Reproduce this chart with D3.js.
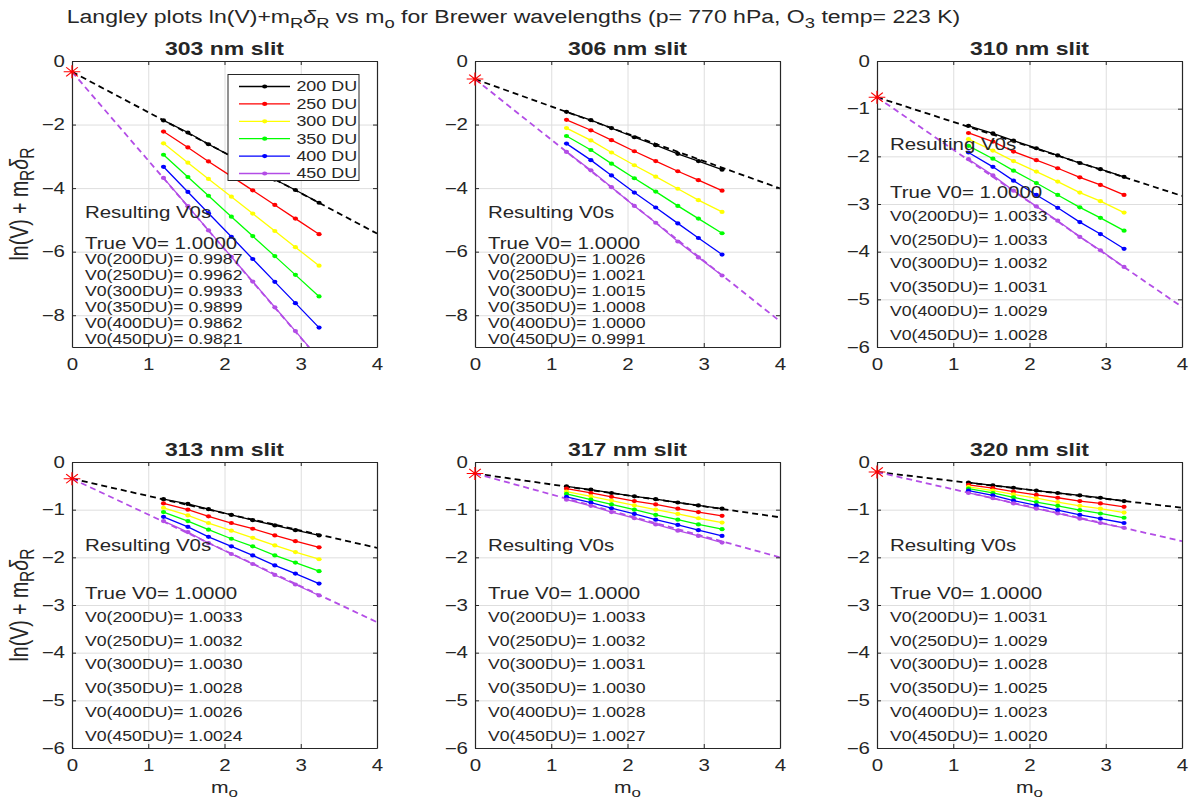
<!DOCTYPE html>
<html>
<head>
<meta charset="utf-8">
<title>Langley plots for Brewer wavelengths</title>
<script src="https://cdn.jsdelivr.net/npm/d3@7"></script>
<style>
  body { margin: 0; background: #fff; }
  text { font-family: Arial, "Liberation Sans", Helvetica, sans-serif; fill: #262626; white-space: pre; }
</style>
</head>
<body>
<script>

// ---- data ----
var airmass = [1.2, 1.52, 1.79, 2.09, 2.37, 2.66, 2.93, 3.24];
var ozoneLabels = ['200 DU', '250 DU', '300 DU', '350 DU', '400 DU', '450 DU'];
var ozoneKeys = ['200DU', '250DU', '300DU', '350DU', '400DU', '450DU'];
var slitTitles = ['303 nm slit', '306 nm slit', '310 nm slit', '313 nm slit', '317 nm slit', '320 nm slit'];
var yBottoms = [-9, -9, -6, -6, -6, -6];
var yTicksTall = [-8, -6, -4, -2, 0];
var yTicksShort = [-6, -5, -4, -3, -2, -1, 0];
var xTicks = [0, 1, 2, 3, 4];

var y303 = [
  [-1.87, -2.25, -2.62, -3.00, -3.36, -3.73, -4.06, -4.46],
  [-2.22, -2.72, -3.16, -3.63, -4.07, -4.53, -4.96, -5.45],
  [-2.59, -3.20, -3.71, -4.27, -4.80, -5.35, -5.86, -6.44],
  [-2.95, -3.65, -4.24, -4.90, -5.51, -6.14, -6.73, -7.41],
  [-3.33, -4.12, -4.79, -5.53, -6.23, -6.95, -7.62, -8.39],
  [-3.68, -4.57, -5.33, -6.16, -6.94, -7.75, -8.50, -9.37]
];
var y306 = [
  [-1.60, -1.86, -2.11, -2.40, -2.65, -2.92, -3.15, -3.42],
  [-1.85, -2.18, -2.49, -2.84, -3.15, -3.47, -3.75, -4.08],
  [-2.11, -2.50, -2.88, -3.28, -3.64, -4.02, -4.38, -4.75],
  [-2.36, -2.80, -3.23, -3.69, -4.11, -4.56, -4.96, -5.42],
  [-2.60, -3.12, -3.60, -4.14, -4.61, -5.11, -5.57, -6.09],
  [-2.86, -3.44, -3.97, -4.56, -5.09, -5.68, -6.18, -6.75]
];
var y310 = [
  [-1.36, -1.52, -1.67, -1.83, -1.98, -2.14, -2.27, -2.43],
  [-1.51, -1.69, -1.90, -2.08, -2.25, -2.44, -2.60, -2.81],
  [-1.64, -1.88, -2.10, -2.32, -2.53, -2.76, -2.94, -3.18],
  [-1.78, -2.05, -2.30, -2.56, -2.81, -3.07, -3.29, -3.56],
  [-1.92, -2.22, -2.51, -2.81, -3.08, -3.38, -3.63, -3.94],
  [-2.06, -2.40, -2.72, -3.05, -3.35, -3.69, -3.97, -4.32]
];
var y313 = [
  [-0.78, -0.88, -0.99, -1.11, -1.22, -1.33, -1.43, -1.54],
  [-0.87, -1.00, -1.14, -1.28, -1.40, -1.54, -1.66, -1.79],
  [-0.96, -1.12, -1.28, -1.44, -1.59, -1.75, -1.89, -2.04],
  [-1.05, -1.24, -1.42, -1.61, -1.77, -1.96, -2.11, -2.29],
  [-1.15, -1.36, -1.57, -1.77, -1.96, -2.17, -2.34, -2.55],
  [-1.24, -1.47, -1.70, -1.93, -2.14, -2.37, -2.57, -2.80]
];
var y317 = [
  [-0.51, -0.58, -0.65, -0.72, -0.78, -0.85, -0.91, -0.98],
  [-0.56, -0.65, -0.73, -0.82, -0.89, -0.98, -1.05, -1.13],
  [-0.62, -0.72, -0.81, -0.91, -1.00, -1.09, -1.18, -1.27],
  [-0.67, -0.79, -0.89, -1.00, -1.11, -1.21, -1.31, -1.41],
  [-0.73, -0.85, -0.97, -1.09, -1.21, -1.32, -1.43, -1.55],
  [-0.79, -0.92, -1.05, -1.18, -1.31, -1.44, -1.55, -1.69]
];
var y320 = [
  [-0.43, -0.49, -0.54, -0.60, -0.65, -0.70, -0.75, -0.82],
  [-0.48, -0.55, -0.62, -0.69, -0.75, -0.82, -0.87, -0.94],
  [-0.52, -0.60, -0.68, -0.76, -0.84, -0.92, -0.98, -1.06],
  [-0.56, -0.65, -0.74, -0.84, -0.92, -1.01, -1.08, -1.17],
  [-0.60, -0.70, -0.81, -0.91, -1.01, -1.11, -1.19, -1.28],
  [-0.65, -0.76, -0.87, -0.98, -1.08, -1.19, -1.28, -1.38]
];

// intercept (red star) and dashed fit values at m_o = 4
var starY = [-0.34, -0.57, -0.76, -0.35, -0.24, -0.21];
var fit200At4 = [-5.43, -4.01, -2.83, -1.80, -1.16, -0.96];
var fit450At4 = [-11.5, -8.19, -5.16, -3.36, -2.00, -1.66];

var v0303 = ['0.9987', '0.9962', '0.9933', '0.9899', '0.9862', '0.9821'];
var v0306 = ['1.0026', '1.0021', '1.0015', '1.0008', '1.0000', '0.9991'];
var v0310 = ['1.0033', '1.0033', '1.0032', '1.0031', '1.0029', '1.0028'];
var v0313 = ['1.0033', '1.0032', '1.0030', '1.0028', '1.0026', '1.0024'];
var v0317 = ['1.0033', '1.0032', '1.0031', '1.0030', '1.0028', '1.0027'];
var v0320 = ['1.0031', '1.0029', '1.0028', '1.0025', '1.0023', '1.0020'];

// ---- styles / layout ----
var seriesColors = ['#000000', '#ff0000', '#ffff00', '#00ff00', '#0000ff', '#b34de6'];
var SX = 1.28;            // the figure is stretched sideways
var axisColor = '#262626';
var gridColor = '#dedede';

var svg = d3.select('body').append('svg')
    .attr('width', 1193)
    .attr('height', 808);

var colX = [72, 475, 877];
var rowY = [61, 462];
var pw = 305, ph = 286;

// text with horizontal stretch and optional subscripts
function richText(parent, x, y, size, parts, opts) {
  opts = opts || {};
  var t = parent.append('text')
      .attr('transform', 'translate(' + x + ',' + y + ') scale(' + SX + ',1)' + (opts.rotate ? ' rotate(' + opts.rotate + ')' : ''))
      .style('font-size', size + 'px')
      .attr('text-anchor', opts.anchor || 'start');
  if (opts.bold) t.style('font-weight', 'bold');
  if (opts.dy) t.attr('dy', opts.dy);
  var shift = 0;
  parts.forEach(function(p) {
    if (typeof p === 'string') p = {t: p};
    var target = p.sub ? 0.26 * size : 0;
    var sp = t.append('tspan').text(p.t);
    if (target !== shift) sp.attr('dy', (target - shift));
    shift = target;
    if (p.sub) sp.style('font-size', (0.8 * size) + 'px');
    if (p.it) sp.style('font-style', 'italic');
  });
  return t;
}

function starPath(s) {
  var d = s * 0.7;
  return 'M' + (-s) + ',0L' + s + ',0M0,' + (-s) + 'L0,' + s +
         'M' + (-d) + ',' + (-d) + 'L' + d + ',' + d + 'M' + (-d) + ',' + d + 'L' + d + ',' + (-d);
}

var panels = [
  {series: y303, v0: v0303},
  {series: y306, v0: v0306},
  {series: y310, v0: v0310},
  {series: y313, v0: v0313},
  {series: y317, v0: v0317},
  {series: y320, v0: v0320}
];

panels.forEach(function(p, i) {
  var left = colX[i % 3], top = rowY[Math.floor(i / 3)];
  var g = svg.append('g').attr('transform', 'translate(' + left + ',' + top + ')');

  var xScale = d3.scaleLinear().domain([0, 4]).range([0, pw]);
  var yScale = d3.scaleLinear().domain([yBottoms[i], 0]).range([ph, 0]);
  var yTicks = yBottoms[i] === -9 ? yTicksTall : yTicksShort;

  // grid
  g.append('g')
      .attr('transform', 'translate(0,' + ph + ')')
      .call(d3.axisBottom(xScale).tickValues(xTicks).tickSize(-ph).tickFormat(''))
      .call(function(a) { a.select('.domain').remove(); a.selectAll('line').attr('stroke', gridColor); });
  g.append('g')
      .call(d3.axisLeft(yScale).tickValues(yTicks).tickSize(-pw).tickFormat(''))
      .call(function(a) { a.select('.domain').remove(); a.selectAll('line').attr('stroke', gridColor); });

  svg.append('clipPath').attr('id', 'clip' + i)
    .append('rect').attr('width', pw).attr('height', ph);
  var plot = g.append('g').attr('clip-path', 'url(#clip' + i + ')');

  // dashed extrapolations to m_o = 0
  var line = d3.line().x(function(d) { return xScale(d[0]); }).y(function(d) { return yScale(d[1]); });
  plot.append('path')
      .attr('d', line([[0, starY[i]], [4, fit200At4[i]]]))
      .attr('fill', 'none').attr('stroke', '#000').attr('stroke-width', 1.8).attr('stroke-dasharray', '6,4');
  plot.append('path')
      .attr('d', line([[0, starY[i]], [4, fit450At4[i]]]))
      .attr('fill', 'none').attr('stroke', seriesColors[5]).attr('stroke-width', 1.8).attr('stroke-dasharray', '6,4');

  // measured series
  var seriesLine = d3.line()
      .x(function(d, j) { return xScale(airmass[j]); })
      .y(function(d) { return yScale(d); });
  p.series.forEach(function(vals, k) {
    plot.append('path')
        .attr('d', seriesLine(vals))
        .attr('fill', 'none').attr('stroke', seriesColors[k]).attr('stroke-width', 1.3);
    plot.selectAll('.pt' + k)
      .data(vals)
      .enter()
      .append('ellipse')
        .attr('cx', function(d, j) { return xScale(airmass[j]); })
        .attr('cy', function(d) { return yScale(d); })
        .attr('rx', 2.6).attr('ry', 2.1)
        .attr('fill', seriesColors[k]);
  });

  // annotations
  var yb = yBottoms[i];
  var tx = xScale(0.17);
  richText(g, tx, yScale(yb + 4.25), 16, ['Resulting V0s'], {dy: '0.35em'});
  richText(g, tx, yScale(yb + 3.25), 16, ['True V0= 1.0000'], {dy: '0.35em'});
  p.v0.forEach(function(v, k) {
    richText(g, tx, yScale(yb + 2.75 - 0.5 * k), 13.8, ['V0(' + ozoneKeys[k] + ')= ' + v], {dy: '0.35em'});
  });

  // axes box with inward ticks
  var bottom = g.append('g').attr('transform', 'translate(0,' + ph + ')')
      .call(d3.axisBottom(xScale).tickValues(xTicks).tickSizeInner(-4).tickSizeOuter(0).tickPadding(12).tickFormat(d3.format('d')));
  var leftAx = g.append('g')
      .call(d3.axisLeft(yScale).tickValues(yTicks).tickSizeInner(-4).tickSizeOuter(0).tickPadding(5.5).tickFormat(d3.format('d')));
  var topAx = g.append('g')
      .call(d3.axisTop(xScale).tickValues(xTicks).tickSizeInner(-4).tickSizeOuter(0).tickFormat(''));
  var rightAx = g.append('g').attr('transform', 'translate(' + pw + ',0)')
      .call(d3.axisRight(yScale).tickValues(yTicks).tickSizeInner(-4).tickSizeOuter(0).tickFormat(''));
  [bottom, leftAx, topAx, rightAx].forEach(function(a) {
    a.select('.domain').attr('stroke', axisColor).attr('stroke-width', 1.2);
    a.selectAll('line').attr('stroke', axisColor);
    a.selectAll('text')
        .attr('transform', 'scale(' + SX + ',1)')
        .style('font-size', '16px')
        .style('font-family', null)
        .attr('fill', axisColor);
  });

  // red star at true V0
  g.append('path')
      .attr('transform', 'translate(' + xScale(0) + ',' + yScale(starY[i]) + ') scale(' + SX + ',1)')
      .attr('d', starPath(6.5))
      .attr('stroke', '#ff0000').attr('stroke-width', 1).attr('fill', 'none');

  // subplot title
  richText(g, pw / 2, -6, 18, [slitTitles[i]], {anchor: 'middle', bold: true});

  // axis labels
  if (i % 3 === 0) {
    richText(g, -44, ph / 2, 19.5, ['ln(V) + m', {t: 'R', sub: 1}, {t: 'δ', it: 1}, {t: 'R', sub: 1}],
      {anchor: 'middle', rotate: -90});
  }
  if (i >= 3) {
    richText(g, pw / 2, ph + 45, 16.5, ['m', {t: 'o', sub: 1}], {anchor: 'middle'});
  }
});

// legend in the first panel
var legend = svg.append('g').attr('transform', 'translate(' + (colX[0] + 156) + ',' + (rowY[0] + 13.5) + ')');
legend.append('rect')
    .attr('width', 131).attr('height', 106)
    .attr('fill', '#fff').attr('stroke', axisColor).attr('stroke-width', 1);
ozoneLabels.forEach(function(lab, k) {
  var ly = 12 + k * 17.4;
  legend.append('line')
      .attr('x1', 11).attr('x2', 62).attr('y1', ly).attr('y2', ly)
      .attr('stroke', seriesColors[k]).attr('stroke-width', 1.3);
  legend.append('ellipse')
      .attr('cx', 36.7).attr('cy', ly).attr('rx', 2.6).attr('ry', 2.1)
      .attr('fill', seriesColors[k]);
  richText(legend, 68.4, ly, 14, [lab], {dy: '0.35em'});
});

// figure title
richText(svg, 513.5, 23, 18, ['Langley plots ln(V)+m', {t: 'R', sub: 1}, {t: 'δ', it: 1}, {t: 'R', sub: 1},
  ' vs m', {t: 'o', sub: 1}, ' for Brewer wavelengths (p= 770 hPa, O', {t: '3', sub: 1}, ' temp= 223 K)'],
  {anchor: 'middle'});

</script>
</body>
</html>
